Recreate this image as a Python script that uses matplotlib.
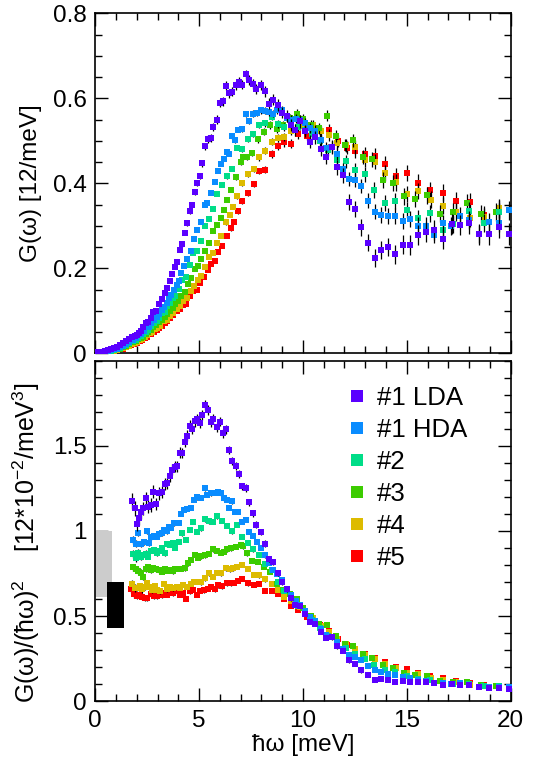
import numpy as np
import matplotlib
matplotlib.use("Agg")
import matplotlib.pyplot as plt
from matplotlib.lines import Line2D
from matplotlib.patches import Rectangle
from matplotlib.ticker import MultipleLocator

plt.rcParams["font.family"] = ["Liberation Sans", "DejaVu Sans"]
plt.rcParams["mathtext.fontset"] = "custom"
plt.rcParams["mathtext.rm"] = "Liberation Sans"
plt.rcParams["mathtext.it"] = "Liberation Sans:italic"

# energie (meV) en G(omega) per monster
LDA_E = [0.15, 0.30, 0.45, 0.60, 0.75, 0.90, 1.05, 1.20, 1.35, 1.50, 1.65,
         1.79, 1.90, 2.03, 2.11, 2.19, 2.32, 2.43, 2.54, 2.67, 2.80, 2.93, 3.07, 3.23, 3.34, 3.47,
         3.60, 3.71, 3.84, 3.95, 4.08, 4.19, 4.31, 4.43, 4.55, 4.68, 4.81, 4.92, 5.05, 5.16, 5.29,
         5.43, 5.56, 5.67, 5.85, 5.99, 6.14, 6.28, 6.44, 6.60, 6.76, 6.92, 7.08,
         7.24, 7.42, 7.58, 7.74, 7.97, 8.16, 8.38, 8.54, 8.80, 8.99, 9.22, 9.41, 9.62, 9.86, 10.10,
         10.34, 10.58, 10.86, 11.12, 11.38, 11.66, 11.92, 12.20, 12.51, 12.81, 13.12, 13.45, 13.77,
         14.10, 14.45, 14.80, 15.16, 15.54, 15.93, 16.32, 16.73, 17.16, 17.56, 18.01, 18.47, 18.95,
         19.45, 19.94]
LDA_G = [0.003, 0.004, 0.005, 0.007, 0.009, 0.012, 0.015, 0.019, 0.023, 0.028, 0.033,
         0.0377, 0.0409, 0.0429, 0.0478, 0.0533, 0.0609, 0.0703, 0.0737, 0.0821, 0.0964, 0.0994,
         0.115, 0.128, 0.142, 0.154, 0.171, 0.187, 0.203, 0.215, 0.243, 0.256, 0.283, 0.306, 0.335,
         0.350, 0.380, 0.401, 0.417, 0.447, 0.487, 0.504, 0.507, 0.532, 0.550, 0.589, 0.593, 0.630,
         0.612, 0.615, 0.631, 0.639, 0.632,
         0.656, 0.643, 0.634, 0.621, 0.632, 0.616, 0.587, 0.597, 0.584, 0.566, 0.558, 0.537, 0.525,
         0.546, 0.523, 0.498, 0.508, 0.480, 0.461, 0.485, 0.438, 0.419, 0.356, 0.339, 0.296, 0.260,
         0.224, 0.243, 0.250, 0.233, 0.255, 0.255, 0.278, 0.286, 0.290, 0.269, 0.304, 0.302, 0.306,
         0.280, 0.280, 0.296, 0.280]

HDA_E = [0.15, 0.30, 0.45, 0.60, 0.75, 0.90, 1.05, 1.20, 1.35, 1.50, 1.65,
         1.83, 1.95, 2.08, 2.22, 2.35, 2.48, 2.59, 2.70, 2.83, 2.96, 3.07, 3.20, 3.31, 3.44, 3.55,
         3.67, 3.79, 3.92, 4.03, 4.15, 4.28, 4.43, 4.60, 4.76, 4.92, 5.08, 5.29, 5.40, 5.56, 5.75,
         5.91, 6.04, 6.20, 6.33, 6.44, 6.60, 6.71, 6.88, 7.08,
         7.26, 7.42, 7.62, 7.78, 7.97, 8.17, 8.36, 8.56, 8.75, 8.98, 9.22, 9.41, 9.68, 9.86, 10.10,
         10.34, 10.58, 10.86, 11.12, 11.38, 11.65, 11.92, 12.24, 12.51, 12.81, 13.12, 13.45, 13.77,
         14.10, 14.45, 14.80, 15.16, 15.54, 15.93, 16.32, 16.73, 17.15, 17.56, 18.01, 18.47, 18.96,
         19.45, 19.94]
HDA_G = [0.003, 0.003, 0.004, 0.005, 0.007, 0.009, 0.011, 0.014, 0.018, 0.022, 0.026,
         0.0317, 0.0352, 0.0427, 0.0455, 0.0517, 0.0613, 0.0622, 0.0702, 0.0777, 0.0846, 0.0925,
         0.101, 0.110, 0.118, 0.129, 0.137, 0.150, 0.161, 0.170, 0.189, 0.206, 0.222, 0.240, 0.268,
         0.290, 0.308, 0.350, 0.353, 0.377, 0.404, 0.430, 0.445, 0.458, 0.474, 0.470, 0.511, 0.501,
         0.526, 0.528,
         0.562, 0.547, 0.564, 0.565, 0.572, 0.571, 0.567, 0.564, 0.572, 0.572, 0.554, 0.550, 0.552,
         0.550, 0.542, 0.529, 0.524, 0.502, 0.483, 0.485, 0.468, 0.434, 0.410, 0.407, 0.393, 0.359,
         0.333, 0.325, 0.323, 0.323, 0.311, 0.316, 0.300, 0.300, 0.279, 0.306, 0.299, 0.323, 0.313,
         0.281, 0.308, 0.306, 0.336]

S2_E = [0.15, 0.30, 0.45, 0.60, 0.75, 0.90, 1.05, 1.20, 1.35, 1.50, 1.65,
        1.83, 1.95, 2.06, 2.19, 2.32, 2.43, 2.54, 2.69, 2.83, 2.96, 3.07, 3.23, 3.34, 3.47, 3.60,
        3.73, 3.86, 4.03, 4.19, 4.36, 4.55, 4.73, 4.92, 5.11, 5.29, 5.48, 5.67, 5.88, 6.12, 6.36,
        6.60, 6.84, 7.05,
        7.36, 7.61, 7.90, 8.19, 8.50, 8.79, 9.09, 9.43, 9.78, 10.10, 10.42, 10.80, 11.20, 11.66,
        12.08, 12.51, 12.97, 13.44, 13.95, 14.44, 15.00, 15.54, 16.12, 16.73, 17.25, 18.01, 18.70,
        19.45]
S2_G = [0.002, 0.003, 0.004, 0.005, 0.006, 0.008, 0.010, 0.013, 0.016, 0.020, 0.024,
        0.029, 0.0319, 0.037, 0.0407, 0.0462, 0.0512, 0.0548, 0.064, 0.0711, 0.076, 0.0833, 0.0937,
        0.0969, 0.111, 0.119, 0.129, 0.134, 0.152, 0.173, 0.180, 0.208, 0.236, 0.241, 0.265, 0.299,
        0.317, 0.339, 0.375, 0.397, 0.416, 0.434, 0.484, 0.480,
        0.503, 0.516, 0.537, 0.541, 0.557, 0.540, 0.533, 0.541, 0.533, 0.525, 0.515, 0.500, 0.478,
        0.455, 0.452, 0.431, 0.421, 0.384, 0.354, 0.359, 0.337, 0.318, 0.329, 0.290, 0.303, 0.335,
        0.306, 0.332]

S3_E = [0.15, 0.30, 0.45, 0.60, 0.75, 0.90, 1.05, 1.20, 1.35, 1.50, 1.65,
        1.83, 1.95, 2.06, 2.19, 2.32, 2.43, 2.54, 2.67, 2.80, 2.93, 3.07, 3.23, 3.34, 3.47, 3.60,
        3.73, 3.86, 3.99, 4.15, 4.31, 4.49, 4.63, 4.81, 4.95, 5.11, 5.29, 5.48, 5.67, 5.85, 6.04,
        6.20, 6.36, 6.55, 6.76, 7.00, 7.13,
        7.29, 7.57, 7.85, 8.13, 8.42, 8.74, 9.06, 9.38, 9.70, 10.02, 10.37, 10.79, 11.18, 11.59,
        12.03, 12.43, 12.87, 13.35, 13.84, 14.35, 14.87, 15.41, 15.99, 16.60, 17.21, 17.88, 18.57,
        19.28]
S3_G = [0.002, 0.002, 0.003, 0.004, 0.005, 0.007, 0.009, 0.011, 0.014, 0.018, 0.021,
        0.0263, 0.0295, 0.0325, 0.0362, 0.0393, 0.0457, 0.0507, 0.0549, 0.0612, 0.0665, 0.0726,
        0.0794, 0.0865, 0.0923, 0.0998, 0.106, 0.116, 0.124, 0.134, 0.145, 0.163, 0.178, 0.199,
        0.206, 0.222, 0.240, 0.260, 0.287, 0.302, 0.318, 0.3375, 0.361, 0.385, 0.415, 0.449, 0.462,
        0.461, 0.472, 0.503, 0.521, 0.537, 0.527, 0.537, 0.553, 0.564, 0.551, 0.537, 0.529, 0.559,
        0.511, 0.490, 0.501, 0.462, 0.456, 0.407, 0.400, 0.369, 0.363, 0.372, 0.328, 0.333, 0.353,
        0.327, 0.332]

S4_E = [0.15, 0.30, 0.45, 0.60, 0.75, 0.90, 1.05, 1.20, 1.35, 1.50, 1.65,
        1.79, 1.90, 2.03, 2.16, 2.27, 2.38, 2.51, 2.64, 2.75, 2.88, 2.99, 3.12, 3.31, 3.44, 3.60,
        3.76, 3.92, 4.08, 4.24, 4.40, 4.60, 4.76, 4.95, 5.11, 5.29, 5.48, 5.69, 5.88, 6.07, 6.28,
        6.49, 6.65, 6.84, 7.08,
        7.37, 7.64, 7.90, 8.17, 8.50, 8.82, 9.10, 9.43, 9.86, 10.10, 10.47, 10.85, 11.27, 11.66,
        12.08, 12.52, 12.99, 13.46, 13.95, 14.46, 15.00, 15.56, 16.15, 16.76, 17.39, 18.05, 18.73,
        19.45]
S4_G = [0.001, 0.002, 0.002, 0.003, 0.004, 0.006, 0.008, 0.010, 0.012, 0.015, 0.018,
        0.022, 0.024, 0.0275, 0.0316, 0.0338, 0.038, 0.0438, 0.0466, 0.0494, 0.056, 0.0584, 0.063,
        0.0754, 0.0777, 0.0866, 0.0937, 0.103, 0.111, 0.123, 0.130, 0.146, 0.159, 0.172, 0.182,
        0.202, 0.2255, 0.237, 0.260, 0.277, 0.308, 0.326, 0.345, 0.370, 0.401,
        0.421, 0.434, 0.461, 0.477, 0.498, 0.506, 0.508, 0.524, 0.535, 0.528, 0.537, 0.522, 0.514,
        0.494, 0.489, 0.485, 0.455, 0.451, 0.425, 0.402, 0.375, 0.382, 0.361, 0.347, 0.333, 0.318,
        0.321, 0.342]

S5_E = [0.15, 0.30, 0.45, 0.60, 0.75, 0.90, 1.05, 1.20, 1.35, 1.50, 1.65,
        1.74, 1.87, 1.99, 2.14, 2.27, 2.40, 2.51, 2.67, 2.83, 2.96, 3.07, 3.23, 3.34, 3.47, 3.60,
        3.76, 3.92, 4.08, 4.24, 4.39, 4.56, 4.73, 4.89, 5.05, 5.24, 5.43, 5.59, 5.75, 5.91, 6.12,
        6.33, 6.52, 6.68, 6.88, 7.08,
        7.37, 7.64, 7.90, 8.17, 8.50, 8.79, 9.09, 9.41, 9.78, 10.18, 10.82, 11.27, 11.70, 12.10,
        12.52, 13.00, 13.47, 13.95, 14.48, 15.00, 15.56, 16.12, 16.73, 17.37, 18.03, 18.73, 19.46]
S5_G = [0.001, 0.001, 0.002, 0.003, 0.004, 0.005, 0.007, 0.009, 0.011, 0.014, 0.017,
        0.020, 0.022, 0.0245, 0.0286, 0.0316, 0.035, 0.038, 0.045, 0.0495, 0.054, 0.059, 0.065,
        0.071, 0.075, 0.083, 0.0895, 0.099, 0.104, 0.114, 0.116, 0.134, 0.146, 0.149, 0.1655,
        0.179, 0.195, 0.210, 0.217, 0.238, 0.253, 0.277, 0.294, 0.310, 0.335, 0.359,
        0.376, 0.398, 0.429, 0.432, 0.469, 0.488, 0.496, 0.493, 0.515, 0.512, 0.524, 0.525, 0.500,
        0.484, 0.475, 0.468, 0.464, 0.445, 0.416, 0.424, 0.401, 0.383, 0.378, 0.359, 0.357, 0.326,
        0.339]

LABELS = ["#1 LDA", "#1 HDA", "#2", "#3", "#4", "#5"]
COLORS = ["#5a00ff", "#0a8cff", "#00dd88", "#3ccc00", "#ddbb00", "#ff0000"]
ENERGIES = [LDA_E, HDA_E, S2_E, S3_E, S4_E, S5_E]
DOS = [LDA_G, HDA_G, S2_G, S3_G, S4_G, S5_G]

# foutenbalken (halve lengte in G) als functie van de energie
ERR_E = [0, 2, 4, 6, 8, 10, 12, 14, 20]
ERR_LDA = [0.001, 0.0016, 0.005, 0.010, 0.012, 0.015, 0.018, 0.022, 0.026]
ERR_REST = [0.0005, 0.0008, 0.002, 0.005, 0.008, 0.011, 0.015, 0.019, 0.022]

# grijze en zwarte balk links onder (E0, E1, y0, y1)
BAR_GRAY = (0.0, 0.8, 0.61, 1.0)
BAR_BLACK = (0.58, 1.39, 0.43, 0.70)

E_MIN_REDUCED = 1.7
FS = 17.5

fig = plt.figure(figsize=(5.36, 7.71), dpi=100)
ax1 = fig.add_axes([0.1776, 0.5418, 0.775, 0.4410])
ax2 = fig.add_axes([0.1776, 0.0905, 0.775, 0.4419])

# #5 eerst tekenen zodat LDA bovenop ligt
for i in reversed(range(len(LABELS))):
    e = np.array(ENERGIES[i])
    g = np.array(DOS[i])
    err = np.interp(e, ERR_E, ERR_LDA if i == 0 else ERR_REST)
    kw = dict(fmt="s", ms=4.9, mew=0, color=COLORS[i], ecolor="k",
              elinewidth=0.9, capsize=0, zorder=3 + (len(LABELS) - i))
    ax1.errorbar(e, g, yerr=err, **kw)
    m = e > E_MIN_REDUCED
    ax2.errorbar(e[m], g[m] / e[m] ** 2 * 100, yerr=err[m] / e[m] ** 2 * 100, **kw)

for x0, x1, y0, y1, c in [BAR_GRAY + ("#cccccc",), BAR_BLACK + ("black",)]:
    ax2.add_patch(Rectangle((x0, y0), x1 - x0, y1 - y0, color=c, lw=0, zorder=2))

for ax in (ax1, ax2):
    ax.set_xlim(0, 20)
    ax.xaxis.set_major_locator(MultipleLocator(5))
    ax.xaxis.set_minor_locator(MultipleLocator(1))
    ax.tick_params(which="both", direction="in", top=True, right=True, width=1.0,
                   labelsize=FS)
    ax.tick_params(which="major", length=9.5, pad=6)
    ax.tick_params(which="minor", length=5)
    for s in ax.spines.values():
        s.set_linewidth(1.2)

ax1.set_ylim(0, 0.8)
ax1.yaxis.set_minor_locator(MultipleLocator(0.05))
ax1.set_yticks([0, 0.2, 0.4, 0.6, 0.8], ["0", "0.2", "0.4", "0.6", "0.8"])
ax1.tick_params(labelbottom=False)
ax1.set_ylabel("G(ω) [12/meV]", fontsize=FS)
ax1.yaxis.set_label_coords(-0.128, 0.5)

ax2.set_ylim(0, 2.0)
ax2.yaxis.set_minor_locator(MultipleLocator(0.1))
ax2.set_yticks([0, 0.5, 1, 1.5], ["0", "0.5", "1", "1.5"])
ax2.set_xticks([0, 5, 10, 15, 20], ["0", "5", "10", "15", "20"])
ax2.set_ylabel(r"G(ω)/(ħω)$^2$    [12*10$^{-2}$/meV$^3$]", fontsize=18)
ax2.yaxis.set_label_coords(-0.128, 0.466)
ax2.set_xlabel("ħω [meV]", fontsize=FS, labelpad=2)

handles = [Line2D([], [], ls="none", marker="s", ms=8, mew=0, color=c) for c in COLORS]
ax2.legend(handles, LABELS, loc="upper left", bbox_to_anchor=(0.605, 0.924),
           frameon=False, fontsize=18.5, handlelength=0.8, handletextpad=0.38,
           labelspacing=0.31, borderpad=0, borderaxespad=0)

fig.savefig("out.png", dpi=100)
